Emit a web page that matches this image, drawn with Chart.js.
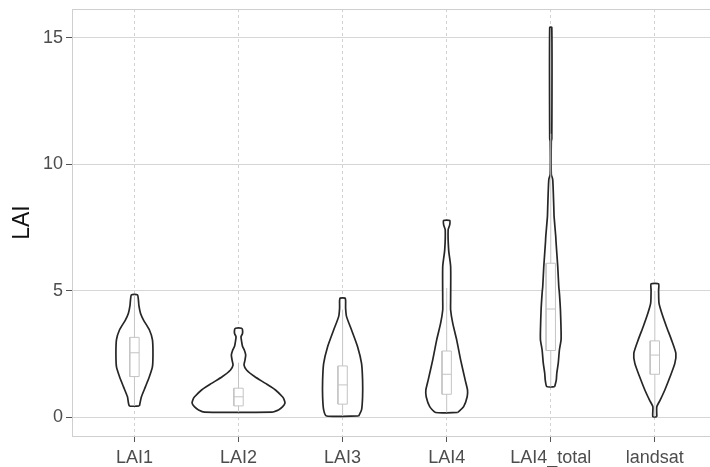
<!DOCTYPE html>
<html>
<head>
<meta charset="utf-8">
<script src="https://cdn.jsdelivr.net/npm/chart.js@4/dist/chart.umd.min.js"></script>
<style>
  html, body { margin: 0; padding: 0; background: #fff; overflow: hidden; }
</style>
</head>
<body>
<canvas id="violinChart" width="710" height="467"></canvas>
<script>
// categories and y ticks
const categories = ['LAI1', 'LAI2', 'LAI3', 'LAI4', 'LAI4_total', 'landsat'];
const yTicks = [0, 5, 10, 15];

// violin outlines: LAI level and half width (in category units)
const lai1Y = [0.44, 0.80, 1.20, 1.60, 1.99, 2.50, 3.05, 3.44, 3.84, 4.10, 4.40, 4.63, 4.83];
const lai1W = [0.048, 0.067, 0.106, 0.144, 0.173, 0.178, 0.173, 0.144, 0.086, 0.058, 0.043, 0.038, 0.029];

const lai2Y = [0.19, 0.28, 0.40, 0.55, 0.70, 0.80, 1.07, 1.33, 1.60, 1.86, 2.05, 2.25, 2.45, 2.62, 2.80, 3.00, 3.18, 3.30, 3.45, 3.51];
const lai2W = [0.326, 0.384, 0.422, 0.446, 0.437, 0.422, 0.355, 0.259, 0.154, 0.077, 0.053, 0.062, 0.069, 0.058, 0.038, 0.029, 0.024, 0.038, 0.038, 0.029];

const lai3Y = [0.04, 0.28, 0.80, 1.46, 2.12, 2.78, 3.44, 3.97, 4.30, 4.60, 4.70];
const lai3W = [0.154, 0.182, 0.192, 0.192, 0.182, 0.144, 0.086, 0.038, 0.029, 0.029, 0.024];

const lai4Y = [0.18, 0.41, 0.80, 1.07, 1.46, 2.26, 3.05, 3.71, 4.23, 4.63, 5.95, 6.60, 7.40, 7.60, 7.77];
const lai4W = [0.106, 0.163, 0.197, 0.200, 0.178, 0.134, 0.096, 0.058, 0.038, 0.038, 0.038, 0.019, 0.014, 0.029, 0.029];

const lai4TotalY = [1.20, 1.46, 1.73, 2.13, 2.65, 3.05, 3.44, 4.23, 4.90, 5.16, 5.95, 6.90, 7.13, 7.93, 8.32, 9.38, 9.60, 10.90, 11.00, 15.40];
const lai4TotalW = [0.038, 0.053, 0.058, 0.072, 0.083, 0.099, 0.099, 0.093, 0.083, 0.077, 0.067, 0.051, 0.048, 0.032, 0.029, 0.019, 0.005, 0.005, 0.010, 0.010];

const landsatY = [0.01, 0.41, 0.67, 1.07, 1.60, 2.12, 2.52, 3.05, 3.57, 4.10, 4.50, 5.00, 5.26];
const landsatW = [0.019, 0.019, 0.051, 0.096, 0.147, 0.192, 0.202, 0.160, 0.112, 0.067, 0.040, 0.036, 0.036];

// box plot stats
const q1 = [1.60, 0.44, 0.51, 0.90, 2.63, 1.69];
const median = [2.54, 0.80, 1.27, 1.69, 4.27, 2.45];
const q3 = [3.15, 1.14, 2.02, 2.61, 6.08, 3.01];
const whiskerLow = [0.44, 0.19, 0.04, 0.18, 1.20, 0.01];
const whiskerHigh = [4.83, 2.15, 4.25, 5.10, 11.20, 4.99];

const violinYs = [lai1Y, lai2Y, lai3Y, lai4Y, lai4TotalY, landsatY];
const violinWs = [lai1W, lai2W, lai3W, lai4W, lai4TotalW, landsatW];

const BOX_HALF = 0.045;

// closed outline: up the right side, down the left side
function violinPoints(i) {
    const c = i + 1;
    const ys = violinYs[i], ws = violinWs[i];
    const right = ys.map((y, k) => ({ x: c + ws[k], y: y }));
    const left = ys.map((y, k) => ({ x: c - ws[k], y: y })).reverse();
    return right.concat(left, [right[0]]);
}

let datasets = [];

categories.forEach((name, i) => {
    datasets.push({
        label: name,
        data: violinPoints(i),
        showLine: true,
        borderColor: '#262626',
        borderWidth: 1.7,
        backgroundColor: '#ffffff',
        fill: 'shape',
        pointRadius: 0,
        tension: 0.2,
        order: 2
    });

    const c = i + 1;
    const boxStyle = {
        showLine: true,
        borderColor: '#c4c4c4',
        borderWidth: 1,
        pointRadius: 0,
        tension: 0,
        fill: false,
        order: 1
    };
    // whiskers
    datasets.push(Object.assign({ data: [{ x: c, y: whiskerLow[i] }, { x: c, y: q1[i] }] }, boxStyle));
    datasets.push(Object.assign({ data: [{ x: c, y: q3[i] }, { x: c, y: whiskerHigh[i] }] }, boxStyle));
    // box
    datasets.push(Object.assign({
        data: [
            { x: c - BOX_HALF, y: q1[i] }, { x: c + BOX_HALF, y: q1[i] },
            { x: c + BOX_HALF, y: q3[i] }, { x: c - BOX_HALF, y: q3[i] },
            { x: c - BOX_HALF, y: q1[i] }
        ]
    }, boxStyle));
    // median
    datasets.push(Object.assign({
        data: [{ x: c - BOX_HALF, y: median[i] }, { x: c + BOX_HALF, y: median[i] }]
    }, boxStyle));
});

// PANEL BORDER
const panelBorder = {
    id: 'panelBorder',
    afterDraw(chart) {
        const a = chart.chartArea;
        const ctx = chart.ctx;
        ctx.save();
        ctx.strokeStyle = '#cfcfcf';
        ctx.lineWidth = 1;
        ctx.strokeRect(Math.round(a.left) + 0.5, Math.round(a.top) + 0.5, a.right - a.left + 5, a.bottom - a.top);
        ctx.restore();
    }
};

const tickFont = { family: 'Liberation Sans, Arial, sans-serif', size: 18 };

new Chart(document.getElementById('violinChart'), {
    type: 'scatter',
    data: { datasets: datasets },
    options: {
        responsive: false,
        animation: false,
        layout: { padding: { top: 9, right: 0, left: 0, bottom: 0 } },
        plugins: {
            legend: { display: false },
            tooltip: { enabled: false }
        },
        scales: {
            x: {
                type: 'linear',
                min: 0.4,
                max: 6.53,
                afterBuildTicks: s => { s.ticks = categories.map((_, i) => ({ value: i + 1 })); },
                afterFit: s => { s.height = 31; s.paddingLeft = 0; s.paddingRight = 0; },
                ticks: {
                    autoSkip: false,
                    maxRotation: 0,
                    minRotation: 0,
                    padding: 5,
                    color: '#4d4d4d',
                    font: tickFont,
                    callback: v => categories[v - 1]
                },
                grid: {
                    color: '#d2d2d2',
                    lineWidth: 1,
                    tickLength: 6,
                    tickColor: '#555555'
                },
                border: { display: false, dash: [3, 3] }
            },
            y: {
                type: 'linear',
                min: -0.75,
                max: 16.13,
                afterBuildTicks: s => { s.ticks = yTicks.map(v => ({ value: v })); },
                afterFit: s => { s.width = 72; s.paddingTop = 0; s.paddingBottom = 0; },
                ticks: {
                    padding: 3,
                    color: '#4d4d4d',
                    font: tickFont
                },
                grid: {
                    color: '#d6d6d6',
                    lineWidth: 1,
                    tickLength: 6,
                    tickColor: '#555555'
                },
                border: { display: false },
                title: {
                    display: true,
                    text: 'LAI',
                    color: '#111111',
                    font: { family: 'Liberation Sans, Arial, sans-serif', size: 23 },
                    padding: { top: 9, bottom: 0 }
                }
            }
        }
    },
    plugins: [panelBorder]
});
</script>
</body>
</html>
